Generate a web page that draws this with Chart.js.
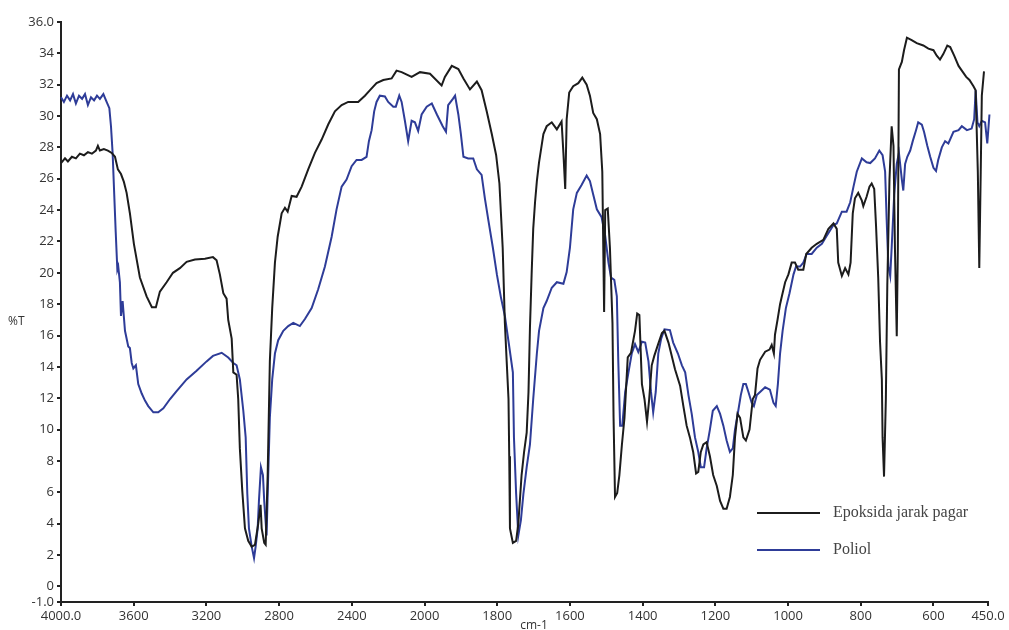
<!DOCTYPE html>
<html>
<head>
<meta charset="utf-8">
<script src="https://cdn.jsdelivr.net/npm/chart.js@4.4.1/dist/chart.umd.min.js"></script>
<style>
  body { margin: 0; background: #fff; }
  #wrap { width: 1009px; height: 630px; }
</style>
</head>
<body>
<div id="wrap"><canvas id="chart"></canvas></div>
<script>
// wavenumber ticks (cm-1) and %T ticks
const xTickLabels = [4000, 3600, 3200, 2800, 2400, 2000, 1800, 1600, 1400, 1200, 1000, 800, 600, 450];
const yTickLabels = [-1, 0, 2, 4, 6, 8, 10, 12, 14, 16, 18, 20, 22, 24, 26, 28, 30, 32, 34, 36];

// Epoksida jarak pagar
const epoxyWave = [4000, 3978, 3962, 3940, 3918, 3896, 3874, 3852, 3830, 3808, 3797, 3786, 3764, 3742, 3721, 3703, 3687, 3670, 3654, 3639,
  3621, 3599, 3566, 3529, 3500, 3478, 3456, 3419, 3384, 3346, 3309, 3263, 3208, 3164, 3144, 3126, 3107, 3089, 3080, 3061,
  3052, 3034, 3025, 3016, 3003, 2988, 2970, 2951, 2933, 2915, 2902, 2896, 2882, 2874, 2863, 2851, 2838, 2823, 2808, 2786,
  2768, 2753, 2731, 2704, 2676, 2640, 2603, 2566, 2530, 2493, 2456, 2420, 2365, 2328, 2300, 2264, 2227, 2181, 2154, 2126,
  2071, 2025, 1985, 1953, 1944, 1925, 1907, 1893, 1875, 1856, 1843, 1829, 1815, 1803, 1794, 1785, 1779, 1774, 1769, 1767,
  1765, 1757, 1748, 1742, 1733, 1726, 1719, 1714, 1710, 1705, 1701, 1696, 1691, 1685, 1678, 1673, 1664, 1650, 1636, 1623,
  1618, 1613, 1609, 1602, 1591, 1577, 1566, 1554, 1545, 1536, 1526, 1517, 1511, 1506, 1503, 1496, 1490, 1483, 1480, 1476,
  1470, 1464, 1457, 1450, 1441, 1432, 1421, 1415, 1409, 1402, 1395, 1388, 1382, 1375, 1368, 1358, 1347, 1340, 1329, 1311,
  1297, 1288, 1279, 1270, 1261, 1253, 1247, 1240, 1233, 1224, 1215, 1206, 1196, 1187, 1178, 1169, 1160, 1152, 1146, 1139,
  1132, 1123, 1116, 1106, 1097, 1091, 1084, 1077, 1063, 1051, 1045, 1039, 1036, 1029, 1022, 1017, 1008, 999, 990, 981,
  972, 958, 950, 935, 921, 903, 889, 875, 866, 862, 852, 843, 834, 828, 822, 816, 807, 797, 793, 784,
  776, 770, 763, 758, 752, 747, 742, 740, 736, 731, 727, 721, 715, 710, 706, 701, 698, 695, 687, 681,
  673, 660, 646, 628, 614, 600, 591, 582, 573, 562, 554, 543, 531, 522, 510, 501, 490, 484, 478, 474,
  470, 467, 461];
const epoxyT = [27.0, 27.3, 27.1, 27.4, 27.3, 27.6, 27.5, 27.7, 27.6, 27.8, 28.1, 27.8, 27.9, 27.8, 27.65, 27.4, 26.6, 26.3, 25.8, 25.1,
  23.8, 21.85, 19.7, 18.5, 17.8, 17.8, 18.8, 19.4, 20.0, 20.3, 20.7, 20.85, 20.9, 21.0, 20.8, 19.9, 18.7, 18.35, 17.0, 15.8,
  13.65, 13.5, 11.95, 8.8, 6.15, 3.7, 2.9, 2.53, 2.65, 3.98, 5.2, 3.7, 2.77, 2.65, 7.1, 14.35, 17.75, 20.65, 22.3, 23.8,
  24.15, 23.9, 24.9, 24.85, 25.5, 26.6, 27.65, 28.5, 29.46, 30.3, 30.7, 30.9, 30.9, 31.3, 31.65, 32.1, 32.3, 32.4, 32.9, 32.8,
  32.5, 32.8, 32.7, 31.95, 32.5, 33.2, 33.0, 32.4, 31.7, 32.2, 31.65, 30.3, 28.85, 27.5, 25.7, 21.6, 16.8, 14.35, 11.95, 8.3,
  3.7, 2.77, 2.9, 4.0, 7.1, 8.6, 9.8, 12.4, 16.5, 20.2, 22.8, 24.5, 25.85, 27.05, 28.1, 28.85, 29.35, 29.6, 29.15, 29.65,
  27.65, 25.35, 29.8, 31.5, 31.9, 32.1, 32.45, 32.0, 31.3, 30.2, 29.8, 28.85, 26.45, 17.5, 24.0, 24.1, 21.6, 16.8, 10.75, 5.7,
  5.95, 7.1, 9.05, 10.75, 14.6, 14.9, 16.3, 17.4, 17.3, 12.9, 11.95, 10.5, 11.95, 14.1, 14.7, 15.4, 16.15, 16.3, 15.55, 13.85,
  12.8, 11.5, 10.25, 9.5, 8.57, 7.2, 7.3, 8.57, 9.05, 9.2, 8.3, 7.1, 6.4, 5.45, 4.95, 4.95, 5.7, 7.1, 9.5, 11.0,
  10.75, 9.5, 9.3, 10.0, 11.95, 12.2, 13.9, 14.45, 14.97, 15.1, 15.4, 14.85, 16.05, 17.0, 18.0, 18.5, 19.4, 19.9, 20.65, 20.65,
  20.2, 20.2, 21.2, 21.6, 21.85, 22.1, 22.8, 23.15, 22.8, 20.65, 19.8, 20.3, 19.9, 20.65, 23.8, 24.75, 25.1, 24.6, 24.25, 24.85,
  25.5, 25.7, 25.35, 23.0, 19.7, 15.6, 13.2, 9.5, 7.0, 11.95, 19.2, 25.95, 29.35, 28.1, 21.6, 15.95, 21.6, 32.97, 33.45, 34.2,
  35.0, 34.85, 34.65, 34.5, 34.3, 34.2, 33.85, 33.6, 33.95, 34.5, 34.4, 33.85, 33.2, 32.9, 32.5, 32.3, 31.9, 31.65, 26.45, 20.3,
  26.45, 31.3, 32.85];

// Poliol
const poliolWave = [4000, 3984, 3967, 3950, 3934, 3918, 3901, 3884, 3868, 3852, 3835, 3818, 3802, 3786, 3767, 3749, 3734, 3725, 3716, 3708,
  3699, 3690, 3685, 3676, 3670, 3661, 3648, 3630, 3621, 3611, 3602, 3588, 3575, 3556, 3538, 3520, 3492, 3465, 3437, 3400,
  3364, 3309, 3254, 3199, 3164, 3116, 3080, 3052, 3034, 3016, 2997, 2984, 2975, 2966, 2951, 2938, 2929, 2918, 2911, 2900,
  2889, 2882, 2869, 2860, 2851, 2838, 2823, 2805, 2777, 2750, 2722, 2686, 2658, 2621, 2585, 2548, 2511, 2484, 2456, 2429,
  2401, 2374, 2346, 2319, 2306, 2291, 2277, 2264, 2246, 2218, 2200, 2172, 2158, 2139, 2126, 2108, 2090, 2071, 2053, 2035,
  2016, 1994, 1980, 1966, 1950, 1941, 1935, 1922, 1916, 1907, 1900, 1893, 1880, 1866, 1856, 1843, 1834, 1824, 1812, 1801,
  1790, 1779, 1767, 1757, 1754, 1748, 1742, 1735, 1728, 1719, 1710, 1701, 1691, 1685, 1673, 1664, 1650, 1636, 1618, 1609,
  1600, 1591, 1581, 1568, 1554, 1545, 1536, 1526, 1513, 1503, 1494, 1487, 1478, 1471, 1467, 1462, 1456, 1448, 1439, 1430,
  1421, 1412, 1402, 1393, 1384, 1377, 1371, 1364, 1357, 1349, 1340, 1325, 1316, 1303, 1292, 1283, 1274, 1265, 1256, 1247,
  1240, 1231, 1224, 1215, 1207, 1196, 1187, 1178, 1169, 1160, 1152, 1146, 1137, 1130, 1123, 1116, 1109, 1100, 1094, 1086,
  1077, 1063, 1050, 1040, 1034, 1028, 1022, 1015, 1006, 996, 985, 978, 967, 958, 949, 935, 921, 907, 894, 875,
  866, 852, 839, 829, 820, 811, 797, 784, 774, 761, 749, 740, 733, 729, 724, 719, 715, 708, 701, 695,
  687, 683, 678, 672, 664, 657, 648, 642, 632, 626, 617, 609, 600, 593, 587, 577, 568, 559, 545, 531,
  522, 508, 495, 488, 484, 479, 474, 467, 458, 452, 446, 440, 435];
const poliolT = [31.2, 30.9, 31.3, 31.0, 31.4, 30.8, 31.3, 31.1, 31.4, 30.7, 31.2, 31.0, 31.3, 31.1, 31.4, 30.9, 30.5, 29.35, 27.65, 25.25,
  22.6, 20.2, 20.4, 19.4, 17.25, 18.2, 16.3, 15.3, 15.2, 14.25, 13.9, 14.1, 12.9, 12.3, 11.85, 11.5, 11.1, 11.1, 11.35, 11.95,
  12.45, 13.2, 13.75, 14.35, 14.7, 14.9, 14.6, 14.25, 14.1, 13.2, 11.2, 9.5, 5.9, 3.7, 2.55, 1.8, 2.55, 3.7, 5.45, 7.6,
  7.1, 5.45, 3.25, 7.1, 10.75, 13.2, 14.85, 15.7, 16.3, 16.6, 16.8, 16.6, 17.05, 17.75, 18.95, 20.4, 22.3, 24.05, 25.5, 25.95,
  26.8, 27.2, 27.2, 27.4, 28.4, 29.1, 30.3, 30.9, 31.3, 31.25, 30.9, 30.6, 30.6, 31.3, 30.9, 29.7, 28.4, 29.7, 29.6, 29.05,
  30.1, 30.6, 30.8, 30.1, 29.35, 29.0, 30.7, 31.1, 31.3, 30.1, 28.85, 27.4, 27.3, 27.3, 26.6, 26.25, 24.75, 23.3, 21.6, 19.9,
  18.45, 17.25, 15.3, 13.65, 9.5, 5.9, 3.25, 4.2, 5.9, 7.6, 9.05, 11.95, 14.85, 16.3, 17.75, 18.2, 19.05, 19.4, 19.3, 20.05,
  21.6, 24.05, 25.1, 25.6, 26.2, 25.85, 25.0, 24.05, 23.55, 22.35, 20.65, 19.7, 19.55, 18.5, 14.35, 10.25, 10.25, 12.4, 13.65, 14.85,
  15.45, 14.95, 15.6, 15.55, 14.35, 12.4, 11.1, 12.4, 14.85, 15.8, 16.4, 16.35, 15.55, 14.85, 14.1, 13.65, 12.2, 11.0, 9.5, 8.57,
  7.6, 7.6, 8.8, 10.0, 11.2, 11.5, 11.0, 10.25, 9.3, 8.57, 8.8, 10.0, 11.2, 12.2, 12.9, 12.9, 12.4, 11.7, 11.5, 12.2,
  12.4, 12.7, 12.55, 11.7, 11.5, 12.9, 14.85, 16.3, 17.75, 18.7, 19.9, 20.4, 20.4, 20.65, 21.2, 21.2, 21.6, 21.85, 22.35, 23.05,
  23.15, 23.9, 23.9, 24.5, 25.5, 26.45, 27.3, 27.05, 27.0, 27.3, 27.8, 27.5, 26.45, 23.55, 20.4, 19.8, 21.6, 25.0, 26.95, 27.65,
  25.95, 25.25, 26.95, 27.4, 27.8, 28.4, 29.1, 29.6, 29.45, 29.0, 28.1, 27.4, 26.7, 26.5, 27.2, 28.0, 28.4, 28.25, 29.0, 29.1,
  29.35, 29.1, 29.2, 29.8, 31.65, 29.6, 29.35, 29.7, 29.6, 28.25, 30.1, 31.05, 31.3];

// the instrument axis changes scale at 2000 cm-1 (below 2000 is stretched x2)
function toAxis(w) {
  return w >= 2000 ? (4000 - w) / 2 : 1000 + (2000 - w);
}
function fromAxis(u) {
  return u <= 1000 ? 4000 - 2 * u : 2000 - (u - 1000);
}

function points(waves, vals) {
  return waves.map((w, i) => ({ x: toAxis(w), y: vals[i] }));
}

const axisColor = '#222';
const tickFont = { family: '"Open Sans", sans-serif', size: 13 };

const textPlugin = {
  id: 'texts',
  afterDraw(chart) {
    const ctx = chart.ctx;
    ctx.save();
    ctx.fillStyle = '#333';
    ctx.font = '12px "Open Sans", sans-serif';
    ctx.textBaseline = 'middle';
    ctx.textAlign = 'left';
    ctx.fillText('%T', 8, 322);
    ctx.textAlign = 'center';
    ctx.fillText('cm-1', 534, 626);

    // legend
    ctx.textAlign = 'left';
    ctx.font = '16px "Liberation Serif", serif';
    chart.data.datasets.forEach((ds, i) => {
      const y = 513 + i * 37;
      ctx.strokeStyle = ds.borderColor;
      ctx.lineWidth = 2;
      ctx.beginPath();
      ctx.moveTo(757, y);
      ctx.lineTo(820, y);
      ctx.stroke();
      ctx.fillStyle = '#444';
      ctx.fillText(ds.label, 833, y);
    });
    ctx.restore();
  }
};

new Chart(document.getElementById('chart'), {
  type: 'line',
  data: {
    datasets: [{
      label: 'Epoksida jarak pagar',
      data: points(epoxyWave, epoxyT),
      borderColor: '#1c1c1c',
      borderWidth: 2,
      pointRadius: 0,
      tension: 0,
      clip: false
    }, {
      label: 'Poliol',
      data: points(poliolWave, poliolT),
      borderColor: '#2e3c98',
      borderWidth: 2,
      pointRadius: 0,
      tension: 0,
      clip: false
    }]
  },
  options: {
    responsive: true,
    maintainAspectRatio: false,
    animation: false,
    layout: { padding: { top: 22, right: 21, left: 0, bottom: 0 } },
    plugins: {
      legend: { display: false },
      tooltip: { enabled: false }
    },
    scales: {
      x: {
        type: 'linear',
        min: 0,
        max: toAxis(450),
        afterBuildTicks: (scale) => {
          scale.ticks = xTickLabels.map(w => ({ value: toAxis(w) }));
        },
        afterFit: (scale) => { scale.height = 28; },
        ticks: {
          autoSkip: false,
          maxRotation: 0,
          padding: 2,
          color: '#333',
          font: tickFont,
          callback: (v) => {
            const w = Math.round(fromAxis(v));
            return (w === 4000 || w === 450) ? w.toFixed(1) : String(w);
          }
        },
        grid: { drawOnChartArea: false, drawTicks: true, tickLength: 4, color: axisColor, lineWidth: 2 },
        border: { display: true, color: axisColor, width: 2 }
      },
      y: {
        min: -1,
        max: 36,
        afterBuildTicks: (scale) => {
          scale.ticks = yTickLabels.map(v => ({ value: v }));
        },
        afterFit: (scale) => { scale.width = 61; },
        ticks: {
          autoSkip: false,
          padding: 3,
          color: '#333',
          font: tickFont,
          callback: (v) => (v === 36 || v === -1) ? v.toFixed(1) : String(v)
        },
        grid: { drawOnChartArea: false, drawTicks: true, tickLength: 4, color: axisColor, lineWidth: 2 },
        border: { display: true, color: axisColor, width: 2 }
      }
    }
  },
  plugins: [textPlugin]
});
</script>
</body>
</html>
